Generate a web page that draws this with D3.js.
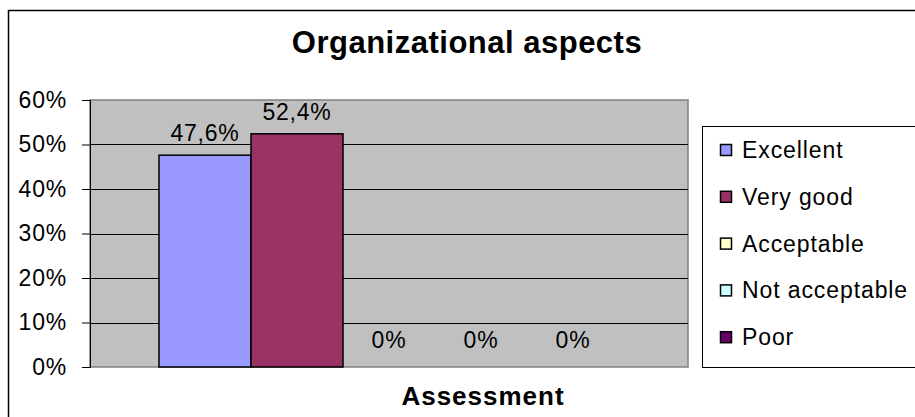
<!DOCTYPE html>
<html>
<head>
<meta charset="utf-8">
<script src="https://cdn.jsdelivr.net/npm/d3@7"></script>
<style>
  body { margin: 0; background: #fff; }
  svg { display: block; font-family: "Liberation Sans", Arial, sans-serif; }
</style>
</head>
<body>
<svg id="chart" width="915" height="417"></svg>
<script>
var categories = ["Assessment"];
var series = ["Excellent", "Very good", "Acceptable", "Not acceptable", "Poor"];
var values = [47.6, 52.4, 0, 0, 0];
var colors = ["#9999ff", "#993366", "#ffffcc", "#ccffff", "#660066"];
var yTicks = [0, 10, 20, 30, 40, 50, 60];

var svg = d3.select("#chart"),
  margin = {top: 100, left: 90},
  width = 598,
  height = 267;

// outer chart border (runs off the right and bottom edges)
svg.append("rect")
  .attr("x", 8.5).attr("y", 10.5)
  .attr("width", 930).attr("height", 420)
  .attr("fill", "#fff")
  .attr("stroke", "#000")
  .attr("stroke-width", 1.5);

svg.append("text")
  .attr("x", 467).attr("y", 53)
  .attr("text-anchor", "middle")
  .style("font-size", "31px")
  .style("font-weight", "bold")
  .style("letter-spacing", "0.5px")
  .text("Organizational aspects");

var g = svg.append("g").attr("transform", "translate(" + margin.left + "," + margin.top + ")");

var x0 = d3.scaleBand().domain(categories).range([0, width]).paddingInner(0).paddingOuter(0.15);
var x1 = d3.scaleBand().domain(series).range([0, x0.bandwidth()]);
var y = d3.scaleLinear().domain([0, 60]).range([height, 0]);

g.append("rect")
  .attr("width", width).attr("height", height)
  .attr("fill", "#c0c0c0")
  .attr("stroke", "#808080")
  .attr("stroke-width", 1.5);

g.selectAll("line.grid")
  .data(yTicks.filter(function (d) { return d > 0 && d < 60; }))
  .enter().append("line")
    .attr("class", "grid")
    .attr("x1", 0).attr("x2", width)
    .attr("y1", function (d) { return Math.round(y(d)) + 0.5; })
    .attr("y2", function (d) { return Math.round(y(d)) + 0.5; })
    .attr("stroke", "#000");

var yAxis = g.append("g")
  .call(d3.axisLeft(y).tickValues(yTicks).tickSize(8).tickPadding(15)
    .tickFormat(function (d) { return d + "%"; }));
yAxis.select(".domain").attr("stroke", "#000");
yAxis.selectAll("text")
  .style("font-size", "23px")
  .style("letter-spacing", "0.8px")
  .attr("fill", "#000");

var locale = d3.formatLocale({decimal: ",", thousands: ".", grouping: [3], currency: ["", ""]});
var fmt = locale.format(".1f");

var bars = g.selectAll("g.cat")
  .data(categories)
  .enter().append("g")
    .attr("transform", function (d) { return "translate(" + x0(d) + ",0)"; });

bars.selectAll("rect")
  .data(series)
  .enter().append("rect")
    .attr("x", function (d) { return x1(d); })
    .attr("y", function (d, i) { return y(values[i]); })
    .attr("width", x1.bandwidth())
    .attr("height", function (d, i) { return height - y(values[i]); })
    .attr("fill", function (d, i) { return colors[i]; })
    .attr("stroke", "#000")
    .attr("stroke-width", function (d, i) { return values[i] > 0 ? 1.5 : 0; });

bars.selectAll("text")
  .data(series)
  .enter().append("text")
    .attr("x", function (d) { return x1(d) + x1.bandwidth() / 2; })
    .attr("y", function (d, i) { return y(values[i]) - (values[i] > 0 ? 14 : 19); })
    .attr("text-anchor", "middle")
    .style("font-size", "23px")
    .style("letter-spacing", "0.8px")
    .text(function (d, i) { return values[i] === 0 ? "0%" : fmt(values[i]) + "%"; });

svg.append("text")
  .attr("x", 483).attr("y", 405)
  .attr("text-anchor", "middle")
  .style("font-size", "26px")
  .style("font-weight", "bold")
  .style("letter-spacing", "1px")
  .text(categories[0]);

// legend
var legend = svg.append("g").attr("transform", "translate(702,126)");
legend.append("rect")
  .attr("x", 0.5).attr("y", 0.5)
  .attr("width", 240).attr("height", 241)
  .attr("fill", "#fff")
  .attr("stroke", "#000");

var item = legend.selectAll("g.item")
  .data(series)
  .enter().append("g")
    .attr("transform", function (d, i) { return "translate(0," + (24 + i * 46.8) + ")"; });

item.append("rect")
  .attr("x", 18.5).attr("y", -5.5)
  .attr("width", 11).attr("height", 11)
  .attr("fill", function (d, i) { return colors[i]; })
  .attr("stroke", "#000")
  .attr("stroke-width", 1.5);

item.append("text")
  .attr("x", 40).attr("y", 8)
  .style("font-size", "23px")
  .style("letter-spacing", "0.9px")
  .text(function (d) { return d; });
</script>
</body>
</html>
